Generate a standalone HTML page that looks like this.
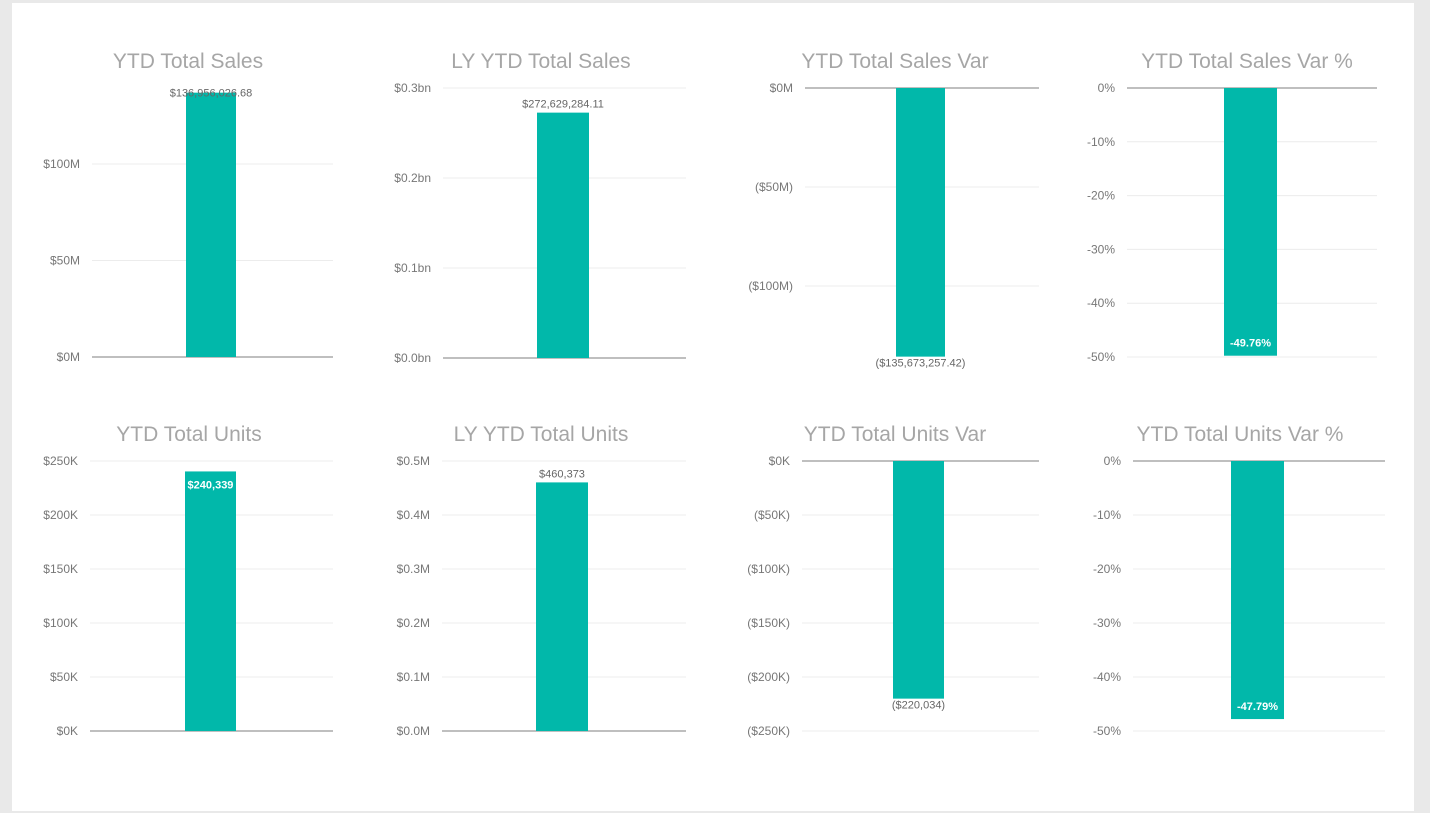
<!DOCTYPE html>
<html><head><meta charset="utf-8"><style>
html,body{margin:0;padding:0;background:#e9e9e9;}
#page{position:absolute;left:12px;top:3px;width:1402px;height:808px;background:#fff;}
svg{position:absolute;left:0;top:0;}
text{font-family:"Liberation Sans",sans-serif;}
</style></head><body>
<div id="page"></div>
<svg id="chart" width="1430" height="813"></svg>
<script>
const titles=["YTD Total Sales","LY YTD Total Sales","YTD Total Sales Var","YTD Total Sales Var %","YTD Total Units","LY YTD Total Units","YTD Total Units Var","YTD Total Units Var %"];
const values=[136956026.68,272629284.11,-135673257.42,-49.76,240339,460373,-220034,-47.79];
const valueLabels=["$136,956,026.68","$272,629,284.11","($135,673,257.42)","-49.76%","$240,339","$460,373","($220,034)","-47.79%"];
const tickValues=[[0,50e6,100e6],[0,0.1e9,0.2e9,0.3e9],[0,-50e6,-100e6],[0,-10,-20,-30,-40,-50],[0,50e3,100e3,150e3,200e3,250e3],[0,0.1e6,0.2e6,0.3e6,0.4e6,0.5e6],[0,-50e3,-100e3,-150e3,-200e3,-250e3],[0,-10,-20,-30,-40,-50]];
const tickLabels=[["$0M","$50M","$100M"],["$0.0bn","$0.1bn","$0.2bn","$0.3bn"],["$0M","($50M)","($100M)"],["0%","-10%","-20%","-30%","-40%","-50%"],["$0K","$50K","$100K","$150K","$200K","$250K"],["$0.0M","$0.1M","$0.2M","$0.3M","$0.4M","$0.5M"],["$0K","($50K)","($100K)","($150K)","($200K)","($250K)"],["0%","-10%","-20%","-30%","-40%","-50%"]];
const labelPos=["overlap","above","below","insideEnd","insideEnd","above","below","insideEnd"];
const layout=[
 {l:92,r:333,z:357,rv:100e6,ry:164,bl:186,br:236,tx:188,ty:68},
 {l:443,r:686,z:358,rv:0.3e9,ry:88,bl:537,br:589,tx:541,ty:68},
 {l:805,r:1039,z:88,rv:-100e6,ry:286,bl:896,br:945,tx:895,ty:68},
 {l:1127,r:1377,z:88,rv:-50,ry:357,bl:1224,br:1277,tx:1247,ty:68},
 {l:90,r:333,z:731,rv:250e3,ry:461,bl:185,br:236,tx:189,ty:441},
 {l:442,r:686,z:731,rv:0.5e6,ry:461,bl:536,br:588,tx:541,ty:441},
 {l:802,r:1039,z:461,rv:-250e3,ry:731,bl:893,br:944,tx:895,ty:441},
 {l:1133,r:1385,z:461,rv:-50,ry:731,bl:1231,br:1284,tx:1240,ty:441}
];
const NS="http://www.w3.org/2000/svg";
const svg=document.getElementById('chart');
function mk(tag,attrs,parent){const e=document.createElementNS(NS,tag);for(const k in attrs)e.setAttribute(k,attrs[k]);parent.appendChild(e);return e;}
titles.forEach((t,i)=>{
 const L=layout[i];
 const yScale=v=>L.z+(v/L.rv)*(L.ry-L.z);
 const g=mk('g',{},svg);
 
 
 const ti=mk('text',{x:L.tx,y:L.ty,'text-anchor':'middle','font-size':'21',fill:'#a6a6a6'},g);
 ti.textContent=t;
 
 
 tickValues[i].forEach((tv,j)=>{
  const y=yScale(tv);
  const ln=mk('line',{x1:L.l,x2:L.r,y1:y,y2:y,stroke:tv===0?'#aaaaaa':'#ececec','stroke-width':tv===0?1.5:1},g);
  
  
  const tx=mk('text',{x:L.l-12,y:y+4,'text-anchor':'end','font-size':'12',fill:'#777'},g);
  tx.textContent=tickLabels[i][j];
  
  
 });
 const v=values[i];
 const y0=yScale(0),y1=yScale(v);
 const bar=mk('rect',{x:L.bl,y:Math.min(y0,y1),width:L.br-L.bl,height:Math.abs(y1-y0),fill:'#01b8aa'},g);
 
 
 const cx=(L.bl+L.br)/2;let ly,fill='#666',fw='normal';
 const pos=labelPos[i];
 if(pos==='above')ly=y1-5;
 else if(pos==='overlap')ly=y1+4;
 else if(pos==='below')ly=y1+10;
 else{fill='#fff';fw='bold';ly=v<0?y1-9:y1+17;}
 const lt=mk('text',{x:cx,y:ly,'text-anchor':'middle','font-size':'11',fill:fill,'font-weight':fw},g);
 lt.textContent=valueLabels[i];
 
 
});
</script>
</body></html>
